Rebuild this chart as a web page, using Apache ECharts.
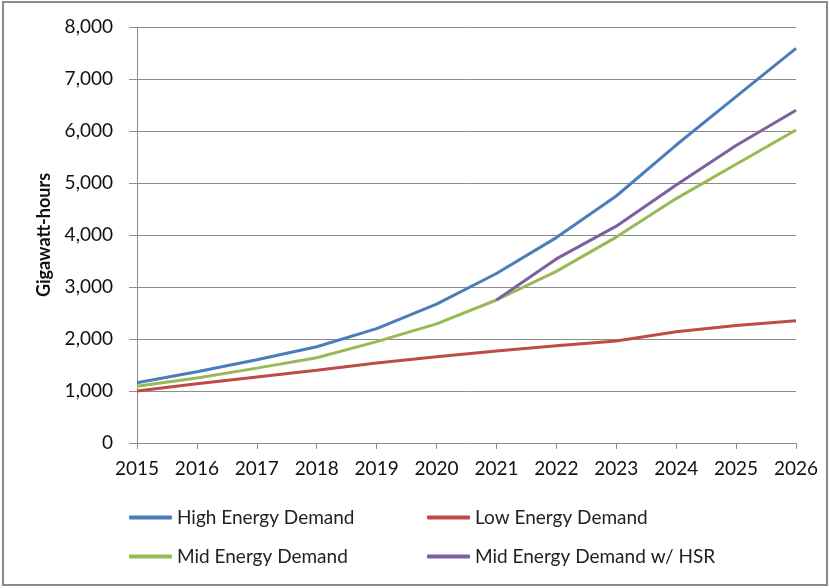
<!DOCTYPE html>
<html lang="en">
<head>
    <meta charset="UTF-8">
    <title>Energy Demand</title>
    <script src="https://cdn.jsdelivr.net/npm/echarts@6/dist/echarts.min.js"></script>
    <style>
        html, body { margin: 0; padding: 0; background: #fff; }
        #chart { width: 830px; height: 588px; }
    </style>
</head>
<body>
    <div id="chart"></div>
    <script>
        // 数据
        var years = ['2015', '2016', '2017', '2018', '2019', '2020', '2021', '2022', '2023', '2024', '2025', '2026'];
        var highDemand = [1160, 1370, 1600, 1850, 2200, 2670, 3260, 3950, 4750, 5730, 6660, 7590];
        var lowDemand = [1000, 1140, 1270, 1400, 1540, 1660, 1770, 1870, 1960, 2140, 2260, 2350];
        var midDemand = [1090, 1250, 1440, 1640, 1950, 2290, 2750, 3300, 3960, 4700, 5360, 6020];
        var midHsr = [null, null, null, null, null, null, 2750, 3540, 4170, 4960, 5720, 6400];

        var font = 'Lato, "Open Sans", sans-serif';
        var myChart = echarts.init(document.getElementById('chart'));

        function line(name, data, color) {
            return {
                name: name,
                type: 'line',
                data: data,
                symbol: 'none',
                connectNulls: false,
                lineStyle: { color: color, width: 3 },
                itemStyle: { color: color },
                emphasis: { disabled: true }
            };
        }

        var legendText = { fontSize: 19, color: '#222', fontFamily: font };

        var option = {
            animation: false,
            textStyle: { fontFamily: font },
            graphic: [{
                type: 'rect',
                shape: { x: 3, y: 2, width: 824, height: 583 },
                style: { fill: 'none', stroke: '#8a8a8a', lineWidth: 2 },
                silent: true
            }],
            grid: { left: 137, right: 34, top: 27, bottom: 145 },
            legend: [{
                left: 129, top: 508, orient: 'vertical', itemGap: 20, padding: 0,
                itemWidth: 43, itemHeight: 4, icon: 'roundRect',
                textStyle: legendText,
                data: ['High Energy Demand', 'Mid Energy Demand']
            }, {
                left: 427, top: 508, orient: 'vertical', itemGap: 20, padding: 0,
                itemWidth: 43, itemHeight: 4, icon: 'roundRect',
                textStyle: legendText,
                data: ['Low Energy Demand', 'Mid Energy Demand w/ HSR']
            }],
            xAxis: {
                type: 'category',
                data: years,
                boundaryGap: false,
                axisLine: { lineStyle: { color: '#8c8c8c', width: 1 } },
                axisTick: { alignWithLabel: true, length: 6, lineStyle: { color: '#8c8c8c' } },
                axisLabel: { color: '#111', fontSize: 19, margin: 16, fontFamily: font }
            },
            yAxis: {
                type: 'value',
                min: 0,
                max: 8000,
                interval: 1000,
                name: 'Gigawatt-hours',
                nameLocation: 'middle',
                nameGap: 84,
                nameTextStyle: { fontSize: 18, fontWeight: 'bold', color: '#111', fontFamily: font },
                axisLine: { show: true, lineStyle: { color: '#8c8c8c', width: 1 } },
                axisTick: { show: true, length: 8, lineStyle: { color: '#8c8c8c' } },
                splitLine: { lineStyle: { color: '#8c8c8c', width: 1 } },
                axisLabel: {
                    color: '#111', fontSize: 19, margin: 24, fontFamily: font,
                    formatter: function (v) { return v.toLocaleString('en-US'); }
                }
            },
            series: [
                line('High Energy Demand', highDemand, '#4a7ebb'),
                line('Low Energy Demand', lowDemand, '#be4b48'),
                line('Mid Energy Demand', midDemand, '#98b954'),
                line('Mid Energy Demand w/ HSR', midHsr, '#7d60a0')
            ]
        };
        myChart.setOption(option);
    </script>
</body>
</html>
